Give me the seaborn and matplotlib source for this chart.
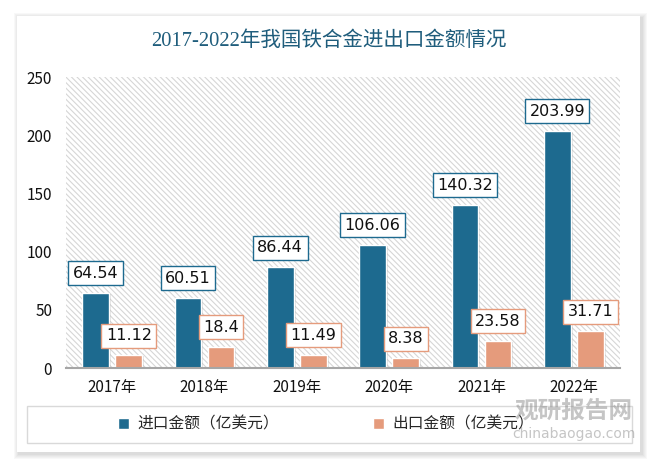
"""2017-2022年我国铁合金进出口金额情况 — grouped bar chart."""

import matplotlib.pyplot as plt
import matplotlib.patheffects as pe
import pandas as pd
import seaborn as sns
from matplotlib.patches import Rectangle

years = ["2017年", "2018年", "2019年", "2020年", "2021年", "2022年"]
import_values = [64.54, 60.51, 86.44, 106.06, 140.32, 203.99]
export_values = [11.12, 18.4, 11.49, 8.38, 23.58, 31.71]
series_names = ["进口金额（亿美元）", "出口金额（亿美元）"]
value_labels = [
    ["64.54", "60.51", "86.44", "106.06", "140.32", "203.99"],
    ["11.12", "18.4", "11.49", "8.38", "23.58", "31.71"],
]
y_ticks = [0, 50, 100, 150, 200, 250]

IMPORT_COLOR = "#1d6a8f"
EXPORT_COLOR = "#e59b7c"
TITLE_COLOR = "#1f5d7c"

df = pd.DataFrame({
    "year": years * 2,
    "value": import_values + export_values,
    "series": [series_names[0]] * len(years) + [series_names[1]] * len(years),
})

sns.set_theme(style="white")
plt.rcParams["font.family"] = ["Noto Sans CJK SC", "DejaVu Sans"]
plt.rcParams["hatch.color"] = "#d6d6d6"
plt.rcParams["hatch.linewidth"] = 0.8

fig = plt.figure(figsize=(6.58, 4.69), dpi=100)
W, H = 658, 469

# soft shadow + white card
for i, a in enumerate([0.05, 0.05, 0.05, 0.06, 0.07]):
    g = 5 - i
    fig.patches.append(Rectangle(((17 - g + 2) / W, 1 - (452 + g + 2) / H),
                                 (623 + 2 * g) / W, (436 + 2 * g) / H,
                                 transform=fig.transFigure, facecolor="#808080",
                                 edgecolor="none", alpha=a, zorder=0))
fig.patches.append(Rectangle((17 / W, 1 - 452 / H), 623 / W, 436 / H,
                             transform=fig.transFigure, facecolor="white",
                             edgecolor="none", zorder=1))

ax = fig.add_axes([66 / W, 1 - 368 / H, 554 / W, 291 / H])
ax.set_zorder(2)
ax.patch.set_facecolor("white")
ax.patch.set_hatch("\\\\\\\\\\\\")
ax.patch.set_edgecolor("#d6d6d6")

sns.barplot(data=df, x="year", y="value", hue="series",
            palette=[IMPORT_COLOR, EXPORT_COLOR], width=0.72, gap=0.2,
            edgecolor="white", linewidth=1, saturation=1, ax=ax, legend=False)

shadow = [pe.SimplePatchShadow(offset=(1.5, -1), alpha=0.25, shadow_rgbFace="#888888"),
          pe.Normal()]
for container, labels, color in zip(ax.containers, value_labels,
                                    [IMPORT_COLOR, EXPORT_COLOR]):
    for bar, label in zip(container, labels):
        bar.set_path_effects(shadow)
        ax.annotate(label, (bar.get_x() + bar.get_width() / 2, bar.get_height()),
                    xytext=(0, 14), textcoords="offset points",
                    ha="center", va="center", fontsize=11.5, color="#111111",
                    family=["DejaVu Sans"],
                    bbox=dict(boxstyle="square,pad=0.28", facecolor="white",
                              edgecolor=color, linewidth=1), zorder=5)

ax.set_ylim(0, 250)
ax.set_xlim(-0.5, len(years) - 0.5)
ax.set_yticks(y_ticks)
ax.set_xlabel("")
ax.set_ylabel("")
ax.tick_params(axis="both", length=0, labelsize=11, colors="#111111")
ax.tick_params(axis="y", pad=10)
ax.tick_params(axis="x", pad=8)
for side in ["left", "right", "top"]:
    ax.spines[side].set_visible(False)
ax.spines["bottom"].set_color("#a6a6a6")
ax.spines["bottom"].set_linewidth(1.5)

fig.text(329 / W, 1 - 41 / H, "2017-2022年我国铁合金进出口金额情况",
         ha="center", va="center", fontsize=14.8, color=TITLE_COLOR,
         fontweight="medium",
         family=["Liberation Serif", "Noto Sans CJK SC"], zorder=3)

# legend frame and entries
fig.patches.append(Rectangle((27 / W, 1 - 443 / H), 605 / W, 37 / H,
                             transform=fig.transFigure, facecolor="white",
                             edgecolor="#d9d9d9", linewidth=1, zorder=2))
handles = [Rectangle((0, 0), 1, 1, facecolor=c) for c in [IMPORT_COLOR, EXPORT_COLOR]]
fig.legend(handles, series_names, loc="center", bbox_to_anchor=(326 / W, 1 - 424 / H),
           ncol=2, frameon=False, fontsize=11.3, handlelength=0.7, handleheight=0.7,
           handletextpad=0.5, columnspacing=6.0)

# watermark
fig.text(574 / W, 1 - 411 / H, "观研报告网", ha="center", va="center", fontsize=17,
         fontweight="bold", color="#8c8c8c", alpha=0.5, zorder=6)
fig.text(574 / W, 1 - 434 / H, "chinabaogao.com", ha="center", va="center", fontsize=10,
         color="#8c8c8c", alpha=0.5, family=["DejaVu Sans"], zorder=6)

fig.savefig("out.png", dpi=100)
